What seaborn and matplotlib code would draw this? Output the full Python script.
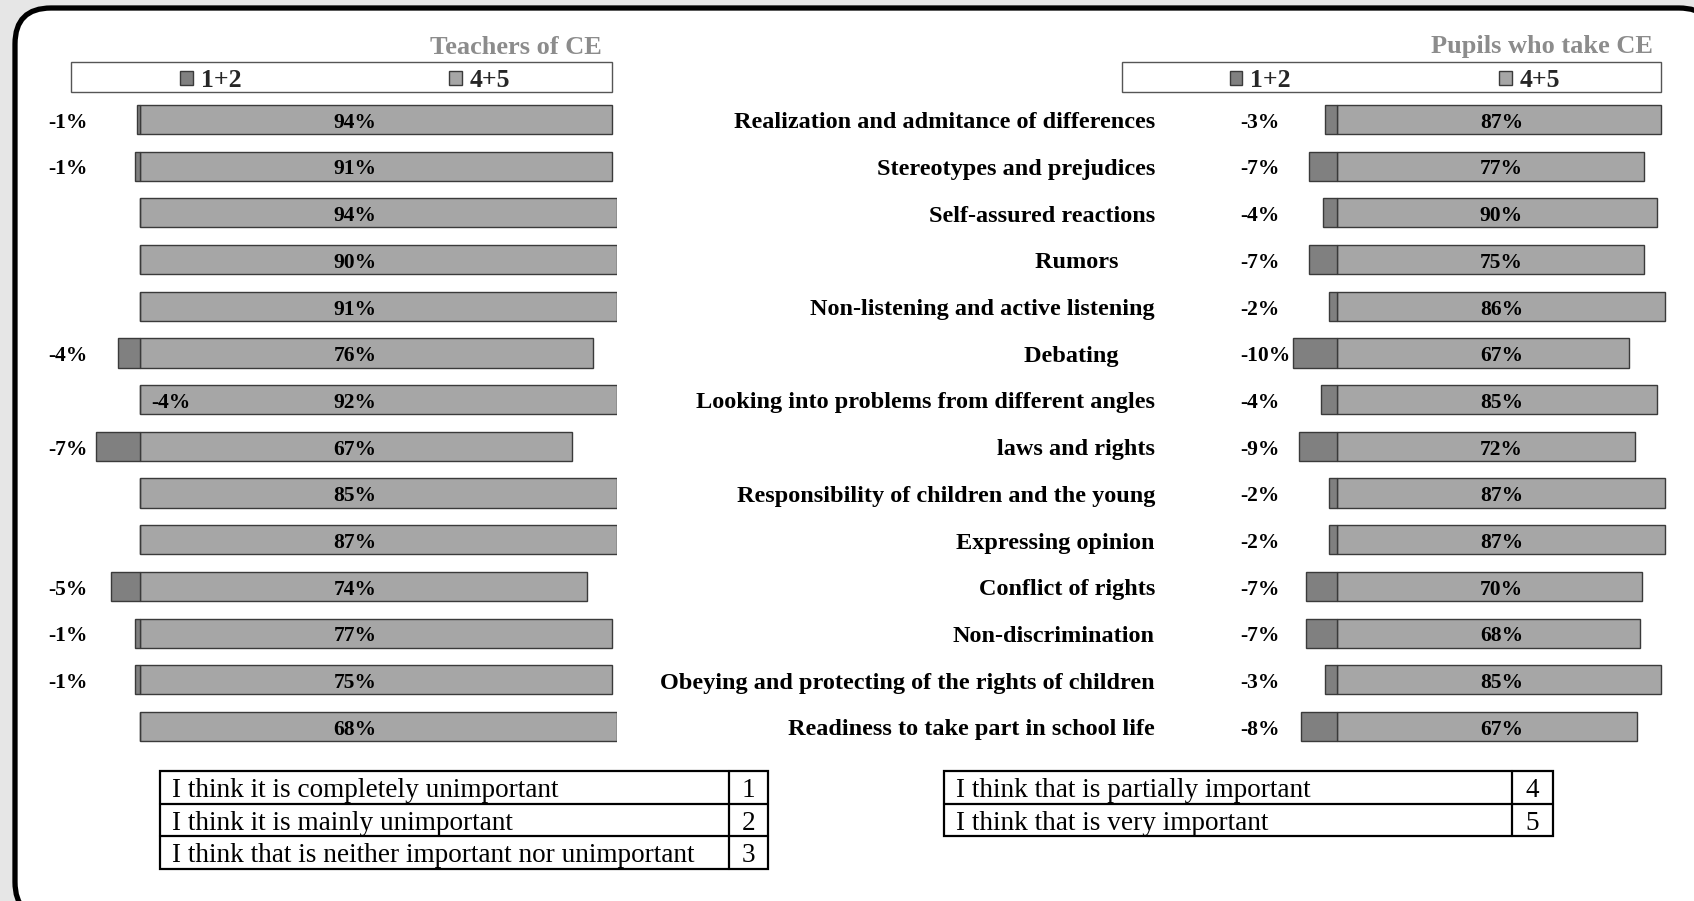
import matplotlib
matplotlib.use("Agg")
import matplotlib.pyplot as plt
import seaborn as sns
import pandas as pd
from matplotlib.patches import Rectangle, FancyBboxPatch, Patch
from matplotlib.transforms import blended_transform_factory

# ---------------- data ----------------
categories = [
    "Realization and admitance of differences",
    "Stereotypes and prejudices",
    "Self-assured reactions",
    "Rumors      ",
    "Non-listening and active listening",
    "Debating      ",
    "Looking into problems from different angles",
    "laws and rights",
    "Responsibility of children and the young",
    "Expressing opinion",
    "Conflict of rights",
    "Non-discrimination",
    "Obeying and protecting of the rights of children",
    "Readiness to take part in school life",
]

# printed labels
teachers_low_label = [-1, -1, None, None, None, -4, -4, -7, None, None, -5, -1, -1, None]
teachers_high_label = [94, 91, 94, 90, 91, 76, 92, 67, 85, 87, 74, 77, 75, 68]
pupils_low_label = [-3, -7, -4, -7, -2, -10, -4, -9, -2, -2, -7, -7, -3, -8]
pupils_high_label = [87, 77, 90, 75, 86, 67, 85, 72, 87, 87, 70, 68, 85, 67]

# bar segment lengths as drawn (percent of full bar)
teachers_low_bar = [-0.7, -1.1, 0, 0, 0, -4.7, 0, -9.35, 0, 0, -6.1, -1.1, -1.1, 0]
teachers_high_bar = [98.8, 98.8, 100, 100, 100, 94.9, 100, 90.6, 100, 100, 93.6, 98.8, 98.8, 100]
pupils_low_bar = [-3.5, -8.4, -4.1, -8.4, -2.4, -13.0, -4.7, -11.3, -2.4, -2.4, -9.2, -9.2, -3.5, -10.6]
pupils_high_bar = [96.6, 91.5, 95.5, 91.5, 97.7, 87.0, 95.5, 88.8, 97.7, 97.7, 91.0, 90.4, 96.6, 89.3]

legend_labels = ["1+2", "4+5"]
panel_titles = ["Teachers of CE", "Pupils who take CE"]

scale_left = [("I think it is completely unimportant", "1"),
              ("I think it is mainly unimportant", "2"),
              ("I think that is neither important nor unimportant", "3")]
scale_right = [("I think that is partially important", "4"),
               ("I think that is very important", "5")]

# ---------------- style ----------------
sns.set_style("white")
plt.rcParams["font.family"] = ["Liberation Serif", "DejaVu Serif"]

DARK = "#808080"
LIGHT = "#a6a6a6"
EDGE = "#3a3a3a"
TITLE_GRAY = "#8c8c8c"

W, H = 1694, 901
fig = plt.figure(figsize=(W / 100, H / 100), dpi=100, facecolor="#e6e6e6")


def fx(x):
    return x / W


def fy(y):
    return 1 - y / H


# background axes in pixel units
bg = fig.add_axes([0, 0, 1, 1], zorder=0)
bg.set_xlim(0, W)
bg.set_ylim(H, 0)
bg.axis("off")
bg.add_patch(FancyBboxPatch((15.0, 8), 1700, 910,
                            boxstyle="round,pad=0,rounding_size=36",
                            fc="white", ec="black", lw=3.8))

# legend boxes
for x0, w in [(71.3, 540.2), (1121.5, 539.1)]:
    bg.add_patch(Rectangle((x0, 61.6), w, 30.2, fc="white", ec="#555555", lw=1.0))

# scale tables
def draw_table(rows, x0, x1, xs, y0, rh):
    n = len(rows)
    bg.add_patch(Rectangle((x0, y0), x1 - x0, rh * n, fc="white", ec="black", lw=1.6))
    bg.plot([xs, xs], [y0, y0 + rh * n], color="black", lw=1.6)
    for k in range(1, n):
        bg.plot([x0, x1], [y0 + rh * k, y0 + rh * k], color="black", lw=1.6)
    for k, (txt, num) in enumerate(rows):
        yc = y0 + rh * (k + 0.5) + 3
        bg.text(x0 + 12, yc, txt, ha="left", va="center", fontsize=19.6, color="black")
        bg.text((xs + x1) / 2, yc, num, ha="center", va="center", fontsize=19.6, color="black")


draw_table(scale_left, 159.9, 768.2, 729.3, 771.4, 32.4)
draw_table(scale_right, 944.3, 1552.5, 1511.5, 771.4, 32.4)

# bar axes
TOP, BOT = 96.05, 749.95
ax_l = fig.add_axes([fx(83.06), fy(BOT), fx(617.3 - 83.06), (BOT - TOP) / H], zorder=2)
ax_r = fig.add_axes([fx(1286.7), fy(BOT), fx(1672.5 - 1286.7), (BOT - TOP) / H], zorder=2)
for a in (ax_l, ax_r):
    a.patch.set_alpha(0)

df_t = pd.DataFrame({"cat": categories, "low": teachers_low_bar, "high": teachers_high_bar})
df_p = pd.DataFrame({"cat": categories, "low": pupils_low_bar, "high": pupils_high_bar})

for ax, df, xmin in [(ax_l, df_t, -12), (ax_r, df_p, -15)]:
    sns.barplot(data=df, x="high", y="cat", orient="h", color=LIGHT, saturation=1,
                width=0.625, edgecolor=EDGE, linewidth=1.0, ax=ax)
    sns.barplot(data=df, x="low", y="cat", orient="h", color=DARK, saturation=1,
                width=0.625, edgecolor=EDGE, linewidth=1.0, ax=ax)
    ax.set_xlim(xmin, 100)
    ax.set_ylim(len(categories) - 0.5, -0.5)
    ax.axis("off")

DY = 0.07  # text baseline nudge (row units)
lab_kw = dict(fontsize=15.5, fontweight="bold", va="center", color="black")

# teachers labels
for i in range(len(categories)):
    ax_l.text(45, i + DY, f"{teachers_high_label[i]}%", ha="center", **lab_kw)
    lv = teachers_low_label[i]
    if lv is not None:
        if teachers_low_bar[i] == 0:
            ax_l.text(2.2, i + DY, f"{lv}%", ha="left", **lab_kw)
        else:
            ax_l.text(-19.2, i + DY, f"{lv}%", ha="left", clip_on=False, **lab_kw)

# pupils labels
for i in range(len(categories)):
    ax_r.text(49, i + DY, f"{pupils_high_label[i]}%", ha="center", **lab_kw)
    ax_r.text(-28.9, i + DY, f"{pupils_low_label[i]}%", ha="left", clip_on=False, **lab_kw)

# category labels
tr = blended_transform_factory(fig.transFigure, ax_r.transData)
for i, c in enumerate(categories):
    ax_r.text(fx(1155), i + DY, c, transform=tr, ha="right", va="center",
              fontsize=17.5, fontweight="bold", color="black", clip_on=False)

# panel titles
fig.text(fx(602), fy(47), panel_titles[0], ha="right", va="center",
         fontsize=19, fontweight="bold", color=TITLE_GRAY)
fig.text(fx(1653), fy(47), panel_titles[1], ha="right", va="center",
         fontsize=19, fontweight="bold", color=TITLE_GRAY)

# legends
handles = [Patch(fc=DARK, ec=EDGE, lw=1.0), Patch(fc=LIGHT, ec=EDGE, lw=1.0)]
for ax, xstart in [(ax_l, 180), (ax_r, 1229.5)]:
    ax.legend(handles=handles, labels=legend_labels, ncol=2, frameon=False,
              loc="center left", bbox_to_anchor=(fx(xstart), fy(80.5)),
              bbox_transform=fig.transFigure,
              prop={"family": "Liberation Serif", "weight": "bold", "size": 18.5},
              handlelength=0.5, handleheight=0.5, handletextpad=0.3,
              columnspacing=8.1, borderpad=0, borderaxespad=0)

fig.savefig("out.png", dpi=100, facecolor=fig.get_facecolor())
